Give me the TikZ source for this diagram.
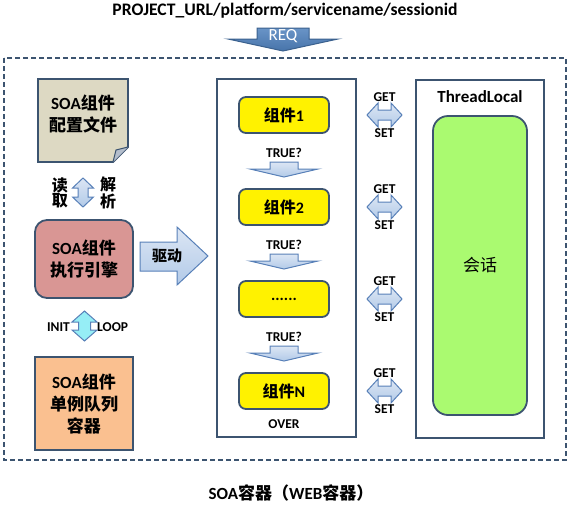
\documentclass[tikz,border=0pt]{standalone}
\usepackage{fontspec}
\setmainfont{Carlito}
\newfontfamily\cjk{Noto Sans CJK SC}
\newcommand{\zh}[1]{{\cjk #1}}

\definecolor{edgeblue}{RGB}{60,84,112}
\definecolor{docfill}{RGB}{221,217,195}
\definecolor{foldfill}{RGB}{180,190,204}
\definecolor{enginefill}{RGB}{217,150,148}
\definecolor{queuefill}{RGB}{250,192,144}
\definecolor{sessfill}{RGB}{170,250,112}
\definecolor{arrtop}{RGB}{220,230,244}
\definecolor{arrbot}{RGB}{178,202,232}
\definecolor{arrline}{RGB}{88,128,184}
\definecolor{reqfill}{RGB}{79,129,189}
\definecolor{cyanfill}{RGB}{150,238,246}

\tikzset{
  box/.style={draw=edgeblue, line width=1.8pt},
  blk/.style={draw=arrline, line width=1pt, top color=arrtop, bottom color=arrbot},
  big/.style={font=\bfseries\fontsize{17}{22}\selectfont, align=center, inner sep=0pt},
  lbl/.style={font=\bfseries\fontsize{13.5}{15}\selectfont, inner sep=0pt},
  comp/.style={box, fill=yellow, rounded corners=7pt, minimum width=90pt, minimum height=36pt,
    font=\bfseries\fontsize{16}{18}\selectfont},
}

\begin{document}
\begin{tikzpicture}[x=1pt,y=-1pt]
\useasboundingbox (0,0) rectangle (571,504);

% request
\node[font=\bfseries\fontsize{17.6}{20}\selectfont, inner sep=0pt] (url) at (285,11)
  {PROJECT\_URL/platform/servicename/sessionid};
\draw[draw=reqfill!75!black, line width=1pt, top color=reqfill!85!white, bottom color=reqfill!90!black]
  (257,28) -- (309,28) -- (309,39) -- (338,39) -- (283,51) -- (228,39) -- (257,39) -- cycle;
\node[font=\fontsize{17}{18}\selectfont, text=white, inner sep=0pt] (req) at (283,36) {REQ};

% soa container
\draw[box, line width=1.6pt, dash pattern=on 5pt off 3pt] (4,58) rectangle (566,460);
\node[big] (soa) at (291,493) {SOA\zh{容器（}WEB\zh{容器）}};

% config file
\draw[box, fill=docfill] (38,79) -- (128,79) -- (128,147) -- (113,162) -- (38,162) -- cycle;
\draw[draw=edgeblue, line width=1pt, fill=foldfill] (113,162) -- (116,150) -- (128,147);
\node[big] (conf) at (83,114) {SOA\zh{组件}\\\zh{配置文件}};

% read / parse
\draw[blk] (83,178) -- (93.5,188) -- (88,188) -- (88,197) -- (93.5,197) -- (83,207)
  -- (72.5,197) -- (78,197) -- (78,188) -- (72.5,188) -- cycle;
\node[big, font=\bfseries\fontsize{16}{15}\selectfont] (read) at (60,193) {\zh{读}\\\zh{取}};
\node[big, font=\bfseries\fontsize{16}{15}\selectfont] (parse) at (108,193) {\zh{解}\\\zh{析}};

% engine
\node[box, big, fill=enginefill, rounded corners=12pt, minimum width=98pt, minimum height=78pt]
  (engine) at (84,259) {SOA\zh{组件}\\\zh{执行引擎}};

% drive
\draw[blk] (140,242) -- (177,242) -- (177,227) -- (208,256) -- (177,285) -- (177,271) -- (140,271) -- cycle;
\node[big, font=\bfseries\fontsize{15}{18}\selectfont] (drive) at (167,256) {\zh{驱动}};

% init / loop
\draw[draw=arrline, line width=1pt, fill=cyanfill] (84.5,311) -- (97,322) -- (90.5,322) -- (90.5,330)
  -- (97,330) -- (84.5,341) -- (72,330) -- (78.5,330) -- (78.5,322) -- (72,322) -- cycle;
\node[lbl, anchor=east] (init) at (70,327) {INIT};
\node[lbl, anchor=west] (loop) at (97,327) {LOOP};

% queue
\node[box, big, fill=queuefill, minimum width=98pt, minimum height=93pt]
  (queue) at (84,403.5) {SOA\zh{组件}\\\zh{单例队列}\\\zh{容器}};

% flow of components
\node[box, fill=white, minimum width=139pt, minimum height=358pt] (flow) at (286.5,258) {};
\node[comp] (c1) at (284,115) {\zh{组件}1};
\node[comp] (c2) at (284,207) {\zh{组件}2};
\node[comp] (c3) at (284,299) {......};
\node[comp] (cn) at (284,391) {\zh{组件}N};
\foreach \y [count=\i] in {162,254,346} {
  \node[lbl] (true\i) at (284,\y-9) {TRUE?};
  \draw[blk] (270,\y) -- (298,\y) -- (298,\y+7) -- (318,\y+7) -- (284,\y+15)
    -- (250,\y+7) -- (270,\y+7) -- cycle;
}
\node[lbl] (over) at (284,424) {OVER};

% get / set
\foreach \c [count=\i] in {115,207,299,391} {
  \draw[blk] (367,\c) -- (378,\c-12) -- (378,\c-5) -- (391,\c-5) -- (391,\c-12) -- (402,\c)
    -- (391,\c+12) -- (391,\c+5) -- (378,\c+5) -- (378,\c+12) -- cycle;
  \node[lbl] (get\i) at (384.5,\c-17.5) {GET};
  \node[lbl] (set\i) at (384.5,\c+18) {SET};
}

% thread local
\node[box, fill=white, minimum width=128pt, minimum height=358pt] (thread) at (480,259) {};
\node[font=\bfseries\fontsize{17}{20}\selectfont, inner sep=0pt] (tl) at (480,97) {ThreadLocal};
\node[box, fill=sessfill, rounded corners=15pt, minimum width=94pt, minimum height=299pt,
  font=\fontsize{17}{20}\selectfont] (sess) at (480,265.5) {\zh{会话}};
\end{tikzpicture}
\end{document}
